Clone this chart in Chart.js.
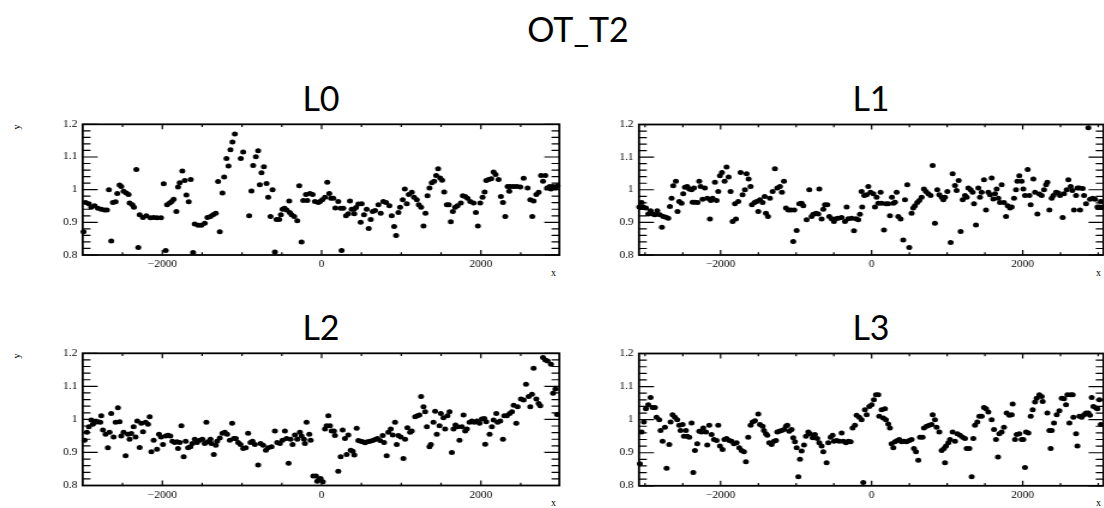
<!DOCTYPE html>
<html>
<head>
<meta charset="utf-8">
<script src="https://cdn.jsdelivr.net/npm/chart.js@4.4.1/dist/chart.umd.min.js"></script>
<style>
  html, body { margin: 0; padding: 0; background: #fff; width: 1104px; height: 508px; overflow: hidden; position: relative; }
  .panel { position: absolute; transform-origin: 0 0; transform: scaleX(1.2); }
  .title { position: absolute; font-family: Lato, "Open Sans", sans-serif; color: #000; text-align: center; white-space: nowrap; line-height: 1; }
  .ax { position: absolute; font-family: "Liberation Serif", serif; font-size: 10px; color: #000; line-height: 10px; }
  .ylab { transform: rotate(-90deg); transform-origin: 50% 50%; }
</style>
</head>
<body>
<div class="title" style="left:428px;top:12px;width:300px;font-size:34px;">OT_T2</div>
<div class="title" id="t0" style="left:221px;top:81px;width:200px;font-size:34px;"></div>
<div class="title" id="t1" style="left:771px;top:81px;width:200px;font-size:34px;"></div>
<div class="title" id="t2" style="left:221px;top:310px;width:200px;font-size:34px;"></div>
<div class="title" id="t3" style="left:771px;top:310px;width:200px;font-size:34px;"></div>

<div class="ax ylab" style="left:14px;top:122px;">y</div>
<div class="ax ylab" style="left:14px;top:351px;">y</div>
<div class="ax" style="left:551px;top:268px;">x</div>
<div class="ax" style="left:1096px;top:268px;">x</div>
<div class="ax" style="left:551px;top:498px;">x</div>
<div class="ax" style="left:1096px;top:498px;">x</div>

<script>
// Panel titles
const panelTitles = ['L0', 'L1', 'L2', 'L3'];

// Axis ticks
const xMajorTicks = [-2000, 0, 2000];
const xTickLabels = ['\u22122000', '0', '2000'];
const xMinorTicks = [-3000, -2500, -1500, -1000, -500, 500, 1000, 1500, 2500, 3000];
const yMajorTicks = [0.8, 0.9, 1, 1.1, 1.2];
const yTickLabels = ['0.8', '0.9', '1', '1.1', '1.2'];
const yMinorTicks = [0.82, 0.84, 0.86, 0.88, 0.92, 0.94, 0.96, 0.98, 1.02, 1.04, 1.06, 1.08, 1.12, 1.14, 1.16, 1.18];

// L0
const l0X = [-2990,-2965,-2923,-2893,-2851,-2809,-2767,-2726,-2696,-2671,-2642,-2621,-2587,-2566,-2537,-2516,-2487,-2453,-2424,-2411,-2377,-2357,-2327,-2302,-2285,-2243,-2201,-2151,-2109,-2067,-2017,-1983,-1958,-1941,-1908,-1883,-1858,-1824,-1803,-1782,-1749,-1719,-1698,-1669,-1644,-1614,-1593,-1551,-1510,-1468,-1434,-1396,-1363,-1329,-1300,-1279,-1245,-1224,-1195,-1170,-1145,-1120,-1090,-1015,-985,-910,-881,-860,-826,-797,-776,-755,-725,-692,-671,-642,-616,-587,-566,-533,-512,-491,-466,-440,-407,-400,-377,-344,-306,-281,-252,-231,-197,-180,-147,-113,-84,-42,-21,8,42,71,96,117,147,172,209,239,251,272,306,335,356,377,406,410,432,461,503,490,532,566,591,616,641,671,713,742,775,809,851,880,910,935,964,985,1019,1044,1069,1094,1132,1161,1195,1220,1249,1279,1304,1329,1354,1383,1413,1438,1463,1488,1513,1539,1572,1597,1622,1648,1677,1706,1748,1773,1803,1832,1866,1908,1937,1962,1991,2021,2046,2067,2096,2130,2159,2184,2222,2251,2277,2306,2335,2356,2369,2411,2453,2495,2537,2587,2620,2645,2662,2696,2725,2755,2780,2809,2830,2864,2880,2906,2935,2964];
const l0Y = [0.871,0.961,0.957,0.946,0.951,0.943,0.940,0.938,0.938,1.000,0.843,0.961,0.963,0.988,1.014,1.010,0.995,0.990,0.985,0.959,0.954,0.946,1.062,0.823,0.923,0.915,0.920,0.914,0.915,0.914,0.914,1.018,0.814,0.954,0.959,0.964,0.971,0.933,1.008,1.021,1.057,1.028,0.984,0.963,1.031,0.808,0.895,0.891,0.891,0.897,0.915,0.918,0.923,0.928,1.025,0.871,0.990,1.039,1.095,1.072,1.122,1.146,1.170,1.095,1.115,0.920,0.996,1.074,1.101,1.119,1.015,1.052,1.070,1.019,0.977,0.918,1.000,0.809,0.909,0.909,0.923,0.940,0.943,0.938,0.965,0.930,0.923,0.918,0.905,1.012,0.840,0.967,0.985,0.967,0.988,0.985,0.964,0.961,0.964,0.969,0.977,1.023,0.988,0.974,0.974,0.944,0.964,0.943,0.814,0.943,0.920,0.926,0.965,0.940,0.940,0.926,0.945,0.956,0.957,0.900,0.923,0.940,0.881,0.909,0.933,0.936,0.954,0.928,0.964,0.961,0.951,0.920,0.887,0.860,0.930,0.946,0.969,1.002,0.957,0.985,0.992,0.977,0.969,0.954,0.946,0.889,0.928,0.981,1.005,1.021,1.026,1.043,1.064,1.036,1.029,0.993,0.954,0.954,0.902,0.933,0.946,0.951,0.959,0.981,0.979,0.974,0.964,0.959,0.930,0.889,0.959,0.977,0.993,1.028,1.031,1.033,1.054,1.046,1.031,0.979,0.961,0.918,1.010,0.995,1.010,1.010,1.010,1.008,1.035,1.005,0.969,0.918,0.965,0.985,0.992,1.043,1.026,1.043,1.005,1.010,1.002,1.010,1.005,1.012];

// L1
const l1X = [-3077,-3046,-3024,-2989,-2958,-2927,-2901,-2870,-2839,-2804,-2777,-2760,-2724,-2693,-2671,-2649,-2627,-2592,-2570,-2548,-2517,-2495,-2472,-2442,-2415,-2384,-2353,-2371,-2340,-2305,-2283,-2265,-2239,-2208,-2177,-2141,-2130,-2106,-2075,-2053,-2031,-2009,-1982,-1947,-1921,-1894,-1868,-1841,-1797,-1810,-1766,-1735,-1709,-1678,-1656,-1629,-1603,-1585,-1550,-1523,-1479,-1501,-1444,-1417,-1400,-1373,-1347,-1311,-1281,-1250,-1214,-1188,-1161,-1135,-1104,-1069,-1024,-1038,-993,-958,-927,-905,-861,-826,-795,-773,-737,-707,-693,-662,-640,-618,-587,-561,-530,-499,-473,-442,-398,-353,-331,-309,-265,-234,-208,-177,-155,-133,-125,-97,-66,-44,-14,22,44,66,88,119,132,163,189,220,242,269,287,309,331,353,384,419,441,472,498,529,551,573,604,631,662,693,719,750,781,808,838,869,896,927,949,971,1002,1046,1072,1103,1125,1152,1178,1205,1236,1258,1280,1311,1337,1355,1381,1412,1434,1456,1487,1514,1545,1567,1589,1611,1633,1655,1677,1699,1721,1752,1779,1801,1832,1854,1885,1911,1929,1955,1986,2008,2030,2066,2088,2105,2141,2163,2194,2220,2251,2282,2309,2326,2353,2384,2406,2441,2472,2494,2529,2547,2582,2604,2635,2657,2679,2706,2724,2750,2759,2794,2812,2838,2869,2891,2927,2958,2989,3015,3033,3059];
const l1Y = [0.947,0.961,0.947,0.944,0.926,0.936,0.926,0.923,0.936,0.923,0.885,0.918,0.916,0.913,0.949,0.974,1.012,1.026,0.933,0.964,0.959,0.988,1.008,1.010,1.002,1.000,1.005,0.962,0.962,0.961,1.026,1.010,0.971,1.005,0.974,0.910,0.967,0.974,1.023,0.967,0.995,1.043,1.053,1.026,1.070,1.039,0.995,0.903,0.910,0.957,0.964,1.053,0.985,1.000,1.049,1.033,1.010,0.954,0.961,0.964,0.969,0.933,0.961,0.979,0.928,0.918,0.974,0.995,1.064,1.005,1.010,0.992,1.026,0.944,0.938,0.938,0.938,0.841,0.875,0.957,0.959,0.951,0.908,1.000,0.918,0.925,0.928,0.926,1.002,0.910,0.940,0.954,0.954,0.918,0.911,0.903,0.911,0.913,0.915,0.903,0.947,0.911,0.913,0.874,0.911,0.908,0.925,0.995,0.947,0.982,0.985,1.010,0.992,0.988,0.947,0.977,0.959,0.992,0.959,0.877,0.957,0.957,0.920,0.977,0.959,0.962,0.992,0.918,0.910,0.846,0.969,1.015,0.823,0.928,0.944,0.951,0.961,0.967,0.977,1.002,0.995,0.988,0.982,1.074,0.897,1.000,0.985,0.977,0.969,0.977,0.995,0.838,1.049,1.013,0.998,1.028,0.872,0.969,0.982,0.977,1.005,1.000,0.992,0.957,0.892,1.005,0.977,0.992,1.031,0.938,0.992,0.985,1.036,0.972,0.988,1.002,0.974,0.961,1.015,0.961,0.918,0.951,0.944,0.947,0.974,1.000,1.026,1.043,1.026,1.002,0.982,1.062,0.982,0.954,1.033,0.992,0.926,0.987,0.982,1.000,1.015,1.023,0.938,0.974,0.982,0.992,0.990,0.982,0.915,0.988,1.000,1.031,1.010,0.998,0.938,0.982,1.005,1.005,0.938,1.004,0.982,0.957,1.190,0.971,0.974,0.971,0.947,0.947,0.964,0.947];

// L2
const l2X = [-2977,-2948,-2923,-2893,-2872,-2843,-2809,-2780,-2767,-2746,-2713,-2684,-2663,-2642,-2612,-2587,-2558,-2537,-2516,-2487,-2461,-2432,-2411,-2390,-2361,-2336,-2315,-2285,-2264,-2243,-2210,-2180,-2159,-2138,-2109,-2067,-2042,-2017,-1992,-1958,-1929,-1900,-1874,-1845,-1816,-1803,-1782,-1761,-1732,-1707,-1677,-1648,-1623,-1593,-1564,-1531,-1497,-1468,-1447,-1426,-1396,-1384,-1354,-1329,-1313,-1279,-1245,-1216,-1187,-1153,-1124,-1103,-1078,-1048,-1019,-985,-952,-923,-893,-868,-839,-797,-767,-734,-700,-671,-629,-587,-558,-524,-491,-461,-440,-415,-390,-365,-336,-306,-273,-252,-222,-210,-189,-155,-138,-105,-71,-55,-29,-13,15,42,63,84,105,126,155,167,209,239,264,293,314,335,365,390,411,440,461,490,515,545,574,608,641,671,700,734,767,784,817,838,868,893,922,943,964,994,1027,1048,1077,1111,1132,1174,1203,1228,1249,1279,1300,1321,1354,1371,1404,1425,1446,1480,1497,1530,1551,1580,1606,1635,1656,1681,1706,1731,1761,1782,1803,1824,1857,1887,1916,1950,1983,2012,2042,2054,2067,2109,2138,2159,2193,2209,2243,2277,2293,2327,2361,2390,2411,2444,2461,2503,2537,2566,2600,2620,2641,2662,2696,2725,2746,2780,2809,2838,2880,2906,2935,2956];
const l2Y = [0.937,0.961,0.978,0.998,0.985,0.991,0.993,0.991,1.011,0.968,0.955,0.914,0.961,1.018,0.947,0.991,1.035,0.993,0.950,0.961,0.890,0.955,0.940,0.957,0.978,0.947,0.995,0.915,0.988,0.963,0.991,0.985,1.008,0.902,0.937,0.910,0.955,0.947,0.924,0.950,0.952,0.950,0.934,0.930,0.932,0.912,0.930,0.981,0.887,0.934,0.914,0.917,0.927,0.940,0.930,0.937,0.940,0.927,0.991,0.932,0.940,0.927,0.894,0.922,0.934,0.944,0.958,0.961,0.955,0.937,0.988,0.942,0.942,0.930,0.924,0.912,0.914,0.958,0.930,0.934,0.924,0.862,0.927,0.922,0.907,0.914,0.917,0.965,0.930,0.927,0.937,0.965,0.942,0.867,0.940,0.924,0.953,0.940,0.961,0.950,0.940,0.927,0.991,0.955,0.937,0.829,0.829,0.813,0.819,0.821,0.811,0.971,0.981,1.011,0.981,0.965,0.965,0.951,0.843,0.887,0.968,0.942,0.894,0.953,0.907,0.904,0.892,0.973,0.936,0.934,0.932,0.929,0.932,0.934,0.936,0.939,0.942,0.936,0.951,0.930,0.890,0.961,0.971,0.953,0.991,0.924,0.951,0.947,0.882,0.940,0.975,0.961,0.965,1.008,1.011,1.013,1.069,1.038,1.023,0.978,0.917,0.924,0.991,1.025,0.955,0.981,1.018,1.005,0.971,1.011,1.023,0.900,0.971,0.983,0.978,0.937,0.978,1.013,0.965,0.971,0.991,0.995,0.991,0.995,0.988,1.001,1.003,0.925,0.993,0.955,0.978,0.998,1.018,0.991,0.995,0.940,1.011,1.011,1.018,1.023,1.043,0.988,1.038,1.062,1.059,1.106,1.069,1.038,1.076,1.155,1.062,1.048,1.041,1.187,1.180,1.177,1.167,1.079,1.092,1.015];

// L3
const l3X = [-3069,-3046,-3016,-2989,-2958,-2927,-2901,-2870,-2848,-2812,-2795,-2768,-2737,-2715,-2680,-2662,-2636,-2605,-2574,-2548,-2530,-2503,-2486,-2459,-2442,-2415,-2384,-2362,-2340,-2309,-2283,-2252,-2230,-2194,-2177,-2150,-2120,-2088,-2053,-2031,-2009,-1974,-1950,-1921,-1885,-1854,-1824,-1788,-1753,-1722,-1691,-1665,-1634,-1603,-1576,-1545,-1501,-1479,-1444,-1426,-1400,-1382,-1356,-1325,-1294,-1267,-1250,-1223,-1192,-1161,-1135,-1117,-1091,-1060,-1038,-1016,-993,-971,-949,-927,-896,-870,-839,-817,-781,-751,-720,-693,-662,-640,-596,-574,-543,-517,-499,-464,-428,-397,-375,-340,-309,-278,-252,-221,-199,-164,-133,-111,-89,-66,-31,0,30,57,88,101,132,154,176,189,220,242,264,287,309,340,366,397,428,463,498,529,560,587,618,640,675,693,728,763,794,808,838,860,896,927,958,984,971,1015,1037,1072,1103,1134,1170,1205,1236,1258,1293,1324,1346,1368,1399,1426,1457,1487,1514,1545,1589,1620,1646,1673,1690,1721,1752,1787,1823,1854,1867,1898,1920,1955,1986,2008,2030,2044,2075,2106,2132,2163,2185,2220,2251,2264,2326,2353,2384,2370,2414,2450,2485,2516,2547,2573,2591,2635,2662,2618,2671,2706,2724,2750,2781,2812,2838,2869,2891,2913,2936,2971,2989,3015,3033];
const l3Y = [0.867,0.963,0.993,1.033,1.045,1.067,1.037,1.037,1.007,1.000,0.967,0.935,0.977,0.853,0.925,0.993,1.015,1.007,1.000,0.983,0.967,0.985,0.950,0.967,0.950,0.947,0.990,0.840,0.907,0.927,0.965,0.963,0.975,0.963,0.923,0.983,0.955,0.940,0.937,0.983,0.920,0.910,0.940,0.943,0.937,0.935,0.927,0.930,0.915,0.907,0.903,0.873,0.947,0.983,0.993,0.997,1.017,0.985,0.980,0.967,0.957,0.953,0.930,0.925,0.935,0.937,0.963,0.965,0.967,0.970,0.980,0.983,0.965,0.970,0.945,0.933,0.915,0.827,0.880,0.905,0.923,0.950,0.963,0.957,0.945,0.955,0.943,0.930,0.920,0.903,0.870,0.930,0.947,0.953,0.935,0.937,0.935,0.960,0.935,0.930,0.935,0.933,0.975,0.983,1.013,1.007,1.000,0.810,1.030,1.015,1.040,1.045,1.060,1.075,1.075,1.010,1.030,1.005,1.033,1.000,0.987,0.975,0.927,0.915,0.933,0.937,0.940,0.933,0.935,0.933,0.937,0.940,0.913,0.903,0.877,0.947,0.947,0.975,0.980,0.983,0.985,1.015,1.000,0.977,0.963,0.907,0.913,0.920,0.870,0.930,0.940,0.963,0.935,0.957,0.953,0.947,0.943,0.913,0.913,0.827,0.943,0.983,0.993,1.010,1.010,1.037,1.033,1.023,1.000,0.970,0.940,0.887,0.957,0.963,0.977,1.020,1.013,1.015,1.047,0.940,0.955,0.957,0.940,0.940,0.855,0.963,0.960,1.010,1.030,1.053,1.065,1.075,1.070,1.055,1.020,0.967,0.967,0.913,0.990,1.015,1.027,1.065,1.063,1.045,1.075,1.075,1.075,0.990,1.007,0.957,0.920,1.010,1.007,1.015,1.020,1.020,1.013,1.067,1.040,1.035,1.033,1.060,0.985];

// Frame box with inward ticks on all four sides
const frameTicks = {
  id: 'frameTicks',
  afterDatasetsDraw(chart) {
    const { ctx, chartArea: a, scales } = chart;
    const sx = scales.x, sy = scales.y;
    ctx.save();
    ctx.strokeStyle = '#000';
    ctx.lineWidth = 1.2;
    ctx.beginPath();
    const xTick = (v, len) => {
      const p = sx.getPixelForValue(v);
      if (p <= a.left + 1 || p >= a.right - 1) return;
      ctx.moveTo(p, a.bottom); ctx.lineTo(p, a.bottom - len);
      ctx.moveTo(p, a.top); ctx.lineTo(p, a.top + len);
    };
    const yTick = (v, len) => {
      const p = sy.getPixelForValue(v);
      if (p < a.top || p > a.bottom) return;
      ctx.moveTo(a.left, p); ctx.lineTo(a.left + len, p);
      ctx.moveTo(a.right, p); ctx.lineTo(a.right - len, p);
    };
    xMajorTicks.forEach(v => xTick(v, 5));
    xMinorTicks.forEach(v => xTick(v, 2.8));
    yMajorTicks.forEach(v => yTick(v, 12.5));
    yMinorTicks.forEach(v => yTick(v, 6.5));
    ctx.stroke();
    ctx.lineWidth = 1.8;
    ctx.strokeRect(a.left, a.top, a.right - a.left, a.bottom - a.top);
    ctx.restore();
  }
};

const tickFont = { family: '"Liberation Serif", serif', size: 9.5 };

function makePanel(title, titleId, xs, ys, g) {
  document.getElementById(titleId).textContent = title;
  const wrap = document.createElement('div');
  wrap.className = 'panel';
  wrap.style.left = g.left + 'px';
  wrap.style.top = g.top + 'px';
  wrap.style.width = g.w + 'px';
  wrap.style.height = g.h + 'px';
  const cv = document.createElement('canvas');
  cv.width = g.w; cv.height = g.h;
  wrap.appendChild(cv);
  document.body.appendChild(wrap);

  new Chart(cv, {
    type: 'scatter',
    data: {
      datasets: [{
        data: xs.map((x, i) => ({ x: x, y: ys[i] })),
        pointRadius: 2.5,
        pointHoverRadius: 2.5,
        pointStyle: 'circle',
        backgroundColor: '#000',
        borderColor: '#000',
        borderWidth: 0,
        clip: false
      }]
    },
    options: {
      responsive: false,
      animation: false,
      events: [],
      devicePixelRatio: 1,
      layout: { padding: { left: 0, bottom: 0, right: g.padRight, top: g.padTop } },
      plugins: { legend: { display: false }, tooltip: { enabled: false }, title: { display: false } },
      scales: {
        x: {
          type: 'linear',
          min: g.xMin, max: g.xMax,
          grid: { display: false, drawTicks: false },
          border: { display: false },
          afterBuildTicks: s => { s.ticks = xMajorTicks.map(v => ({ value: v })); },
          afterFit: s => { s.height = g.axisH; },
          ticks: {
            autoSkip: false, maxRotation: 0, minRotation: 0, padding: 4,
            font: tickFont, color: '#000',
            callback: (v, i) => xTickLabels[i]
          }
        },
        y: {
          type: 'linear',
          min: 0.8, max: 1.2,
          grid: { display: false, drawTicks: false },
          border: { display: false },
          afterBuildTicks: s => { s.ticks = yMajorTicks.map(v => ({ value: v })); },
          afterFit: s => { s.width = g.axisW; },
          ticks: {
            autoSkip: false, padding: 4.5,
            font: tickFont, color: '#000',
            callback: (v, i) => yTickLabels[i]
          }
        }
      }
    },
    plugins: [frameTicks]
  });
}

makePanel(panelTitles[0], 't0', l0X, l0Y, { left: 0, top: 105, w: 490, h: 185, xMin: -3000, xMax: 2985,
  axisW: 68.9, padRight: 23.9, padTop: 19.3, axisH: 35 });
makePanel(panelTitles[1], 't1', l1X, l1Y, { left: 560, top: 105, w: 460, h: 185, xMin: -3080, xMax: 3070,
  axisW: 65.83, padRight: 7.08, padTop: 19.5, axisH: 35 });
makePanel(panelTitles[2], 't2', l2X, l2Y, { left: 0, top: 335, w: 490, h: 173, xMin: -3000, xMax: 2985,
  axisW: 68.9, padRight: 23.9, padTop: 18.3, axisH: 22.5 });
makePanel(panelTitles[3], 't3', l3X, l3Y, { left: 560, top: 335, w: 460, h: 173, xMin: -3080, xMax: 3070,
  axisW: 65.83, padRight: 7.08, padTop: 18.5, axisH: 22.2 });
</script>
</body>
</html>
